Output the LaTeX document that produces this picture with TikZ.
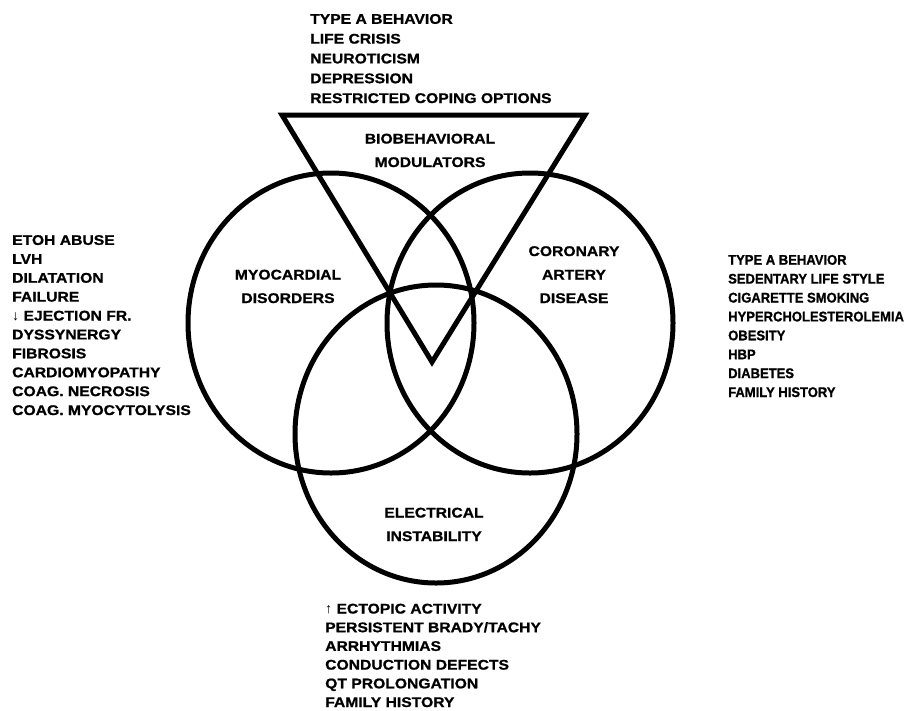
\documentclass[tikz,border=0pt]{standalone}
\usepackage{fontspec}
\newfontfamily\lab{Liberation Sans Bold}[FakeStretch=1.12,FakeBold=1]
\newfontfamily\labn{Liberation Sans Bold}[FakeStretch=0.93,FakeBold=1]
\newfontfamily\arr{Liberation Sans}
\begin{document}
\begin{tikzpicture}[x=1pt,y=-1pt,
  ring/.style={line width=5pt},
  tri/.style={line width=5pt,line join=miter},
  lst/.style={align=left,anchor=base west,inner sep=0pt},
  inlab/.style={font=\lab\fontsize{14}{23.5}\selectfont,align=center,anchor=base,inner sep=0pt}]
\useasboundingbox (0,0) rectangle (909,710);
% circles
\draw[ring] (331,323) ellipse [x radius=143, y radius=150];
\draw[ring] (530,323) ellipse [x radius=143, y radius=150];
\draw[ring] (436,434) ellipse [x radius=141, y radius=149];
% triangle
\draw[tri] (282,115) -- (585,115) -- (432,362) -- cycle;
% interior labels (anchored at the baseline of the last line)
\node[inlab] (bio) at (430,167) {BIOBEHAVIORAL\\MODULATORS};
\node[inlab] (myo) at (288,303) {MYOCARDIAL\\DISORDERS};
\node[inlab] (cad) at (574,303) {CORONARY\\ARTERY\\DISEASE};
\node[inlab] (ele) at (434,541) {ELECTRICAL\\INSTABILITY};
% lists (anchored at the baseline of the last line)
\node[lst,font=\lab\fontsize{14}{19.8}\selectfont] (top) at (310,103) {TYPE A BEHAVIOR\\LIFE CRISIS\\NEUROTICISM\\DEPRESSION\\RESTRICTED COPING OPTIONS};
\node[lst,font=\lab\fontsize{14}{18.9}\selectfont] (left) at (12,415) {ETOH ABUSE\\LVH\\DILATATION\\FAILURE\\{\arr ↓}\ EJECTION FR.\\DYSSYNERGY\\FIBROSIS\\CARDIOMYOPATHY\\COAG. NECROSIS\\COAG. MYOCYTOLYSIS};
\node[lst,font=\labn\fontsize{14}{18.9}\selectfont] (right) at (728,397) {TYPE A BEHAVIOR\\SEDENTARY LIFE STYLE\\CIGARETTE SMOKING\\HYPERCHOLESTEROLEMIA\\OBESITY\\HBP\\DIABETES\\FAMILY HISTORY};
\node[lst,font=\lab\fontsize{14}{18.7}\selectfont] (bot) at (325,707) {{\arr ↑}\ ECTOPIC ACTIVITY\\PERSISTENT BRADY/TACHY\\ARRHYTHMIAS\\CONDUCTION DEFECTS\\QT PROLONGATION\\FAMILY HISTORY};
\end{tikzpicture}
\end{document}
